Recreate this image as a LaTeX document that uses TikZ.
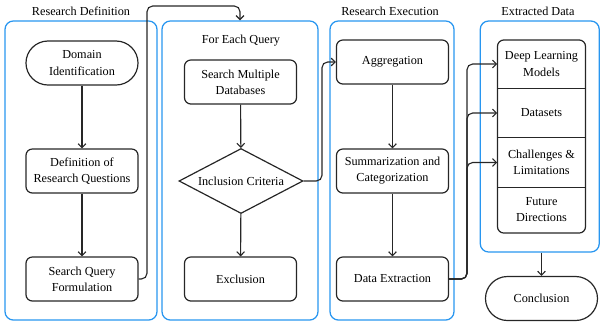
\documentclass[tikz,border=0pt]{standalone}
\usepackage{fontspec}
\setmainfont{Liberation Serif}
\usetikzlibrary{shapes.geometric,arrows.meta}
\definecolor{panelblue}{RGB}{40,150,240}
\tikzset{
  txt/.style={font=\fontsize{8.7}{11.4}\selectfont, align=center},
  box/.style={txt, draw=black!85, line width=0.85pt, rounded corners=4.5pt,
    minimum width=2.8cm, minimum height=1.1cm, inner sep=2pt},
  term/.style={box, rounded corners=0.55cm},
  decision/.style={txt, draw=black!85, line width=0.85pt, diamond, aspect=1.9,
    minimum width=3.1cm, minimum height=1.625cm, inner sep=0pt},
  panel/.style={draw=panelblue, line width=0.9pt, rounded corners=6pt},
  part/.style={txt, minimum width=2.2cm, minimum height=1.225cm, inner sep=1pt},
  conn/.style={draw=black!85, line width=0.8pt, rounded corners=4pt,
    -{Straight Barb[length=2.8pt,width=5.5pt]}},
  title/.style={txt}
}
\begin{document}
\begin{tikzpicture}[x=0.025cm, y=-0.025cm]
\useasboundingbox (0,0) rectangle (601,325);
% panels
\node (p1) [panel, minimum width=3.8cm, minimum height=7.475cm] at (81,170.5) {};
\node (p2) [panel, minimum width=3.9cm, minimum height=7.475cm] at (240,170.5) {};
\node (p3) [panel, minimum width=3.1cm, minimum height=7.475cm] at (392,170.5) {};
\node (p4) [panel, minimum width=2.975cm, minimum height=5.775cm] at (539.75,136.5) {};
% titles
\node (t1) [title] at (81,11) {Research Definition};
\node (t2) [title] at (241,41) {For Each Query};
\node (t3) [title] at (390,11) {Research Execution};
\node (t4) [title] at (538,11) {Extracted Data};
% column 1
\node (dom) [term] at (82,63) {Domain\\Identification};
\node (drq) [box] at (82,171) {Definition of\\Research Questions};
\node (sqf) [box] at (82,279) {Search Query\\Formulation};
% column 2
\node (smd) [box] at (240.5,82) {Search Multiple\\Databases};
\node (inc) [decision] at (241,181) {Inclusion Criteria};
\node (exc) [box] at (240.5,279) {Exclusion};
% column 3
\node (agg) [box] at (392.5,62) {Aggregation};
\node (sum) [box] at (392.5,171) {Summarization and\\Categorization};
\node (dex) [box] at (392.5,279) {Data Extraction};
% column 4
\node (ed) [draw=black!85, line width=0.85pt, rounded corners=4.5pt,
  minimum width=2.2cm, minimum height=4.825cm] at (541.5,136.5) {};
\node (dl) [part] at (541.5,64) {Deep Learning\\Models};
\node (ds) [part] at (541.5,113) {Datasets};
\node (cl) [part] at (541.5,162.5) {Challenges \&\\Limitations};
\node (fd) [part] at (541.5,210) {Future\\Directions};
\draw[black!85, line width=0.85pt] (dl.south west) -- (dl.south east);
\draw[black!85, line width=0.85pt] (ds.south west) -- (ds.south east);
\draw[black!85, line width=0.85pt] (cl.south west) -- (cl.south east);
\node (conc) [term] at (541.5,298.5) {Conclusion};
% connectors
\coordinate (c1) at (147,6);
\coordinate (c2) at (322,62);
\coordinate (c3) at (467,64);
\coordinate (c4) at (467,113);
\coordinate (c5) at (467,162.5);
\draw[conn] (dom) -- (drq);
\draw[conn] (drq) -- (sqf);
\draw[conn] (sqf.east) -| (c1) -| (p2.north);
\draw[conn] (smd) -- (inc);
\draw[conn] (inc) -- (exc);
\draw[conn] (inc.east) -| (c2) -- (agg.west);
\draw[conn] (agg) -- (sum);
\draw[conn] (sum) -- (dex);
\draw[conn] (dex.east) -| (c3) -- (dl.west);
\draw[conn] (dex.east) -| (c4) -- (ds.west);
\draw[conn] (dex.east) -| (c5) -- (cl.west);
\draw[conn] (p4.south -| conc.north) -- (conc.north);
\end{tikzpicture}
\end{document}
